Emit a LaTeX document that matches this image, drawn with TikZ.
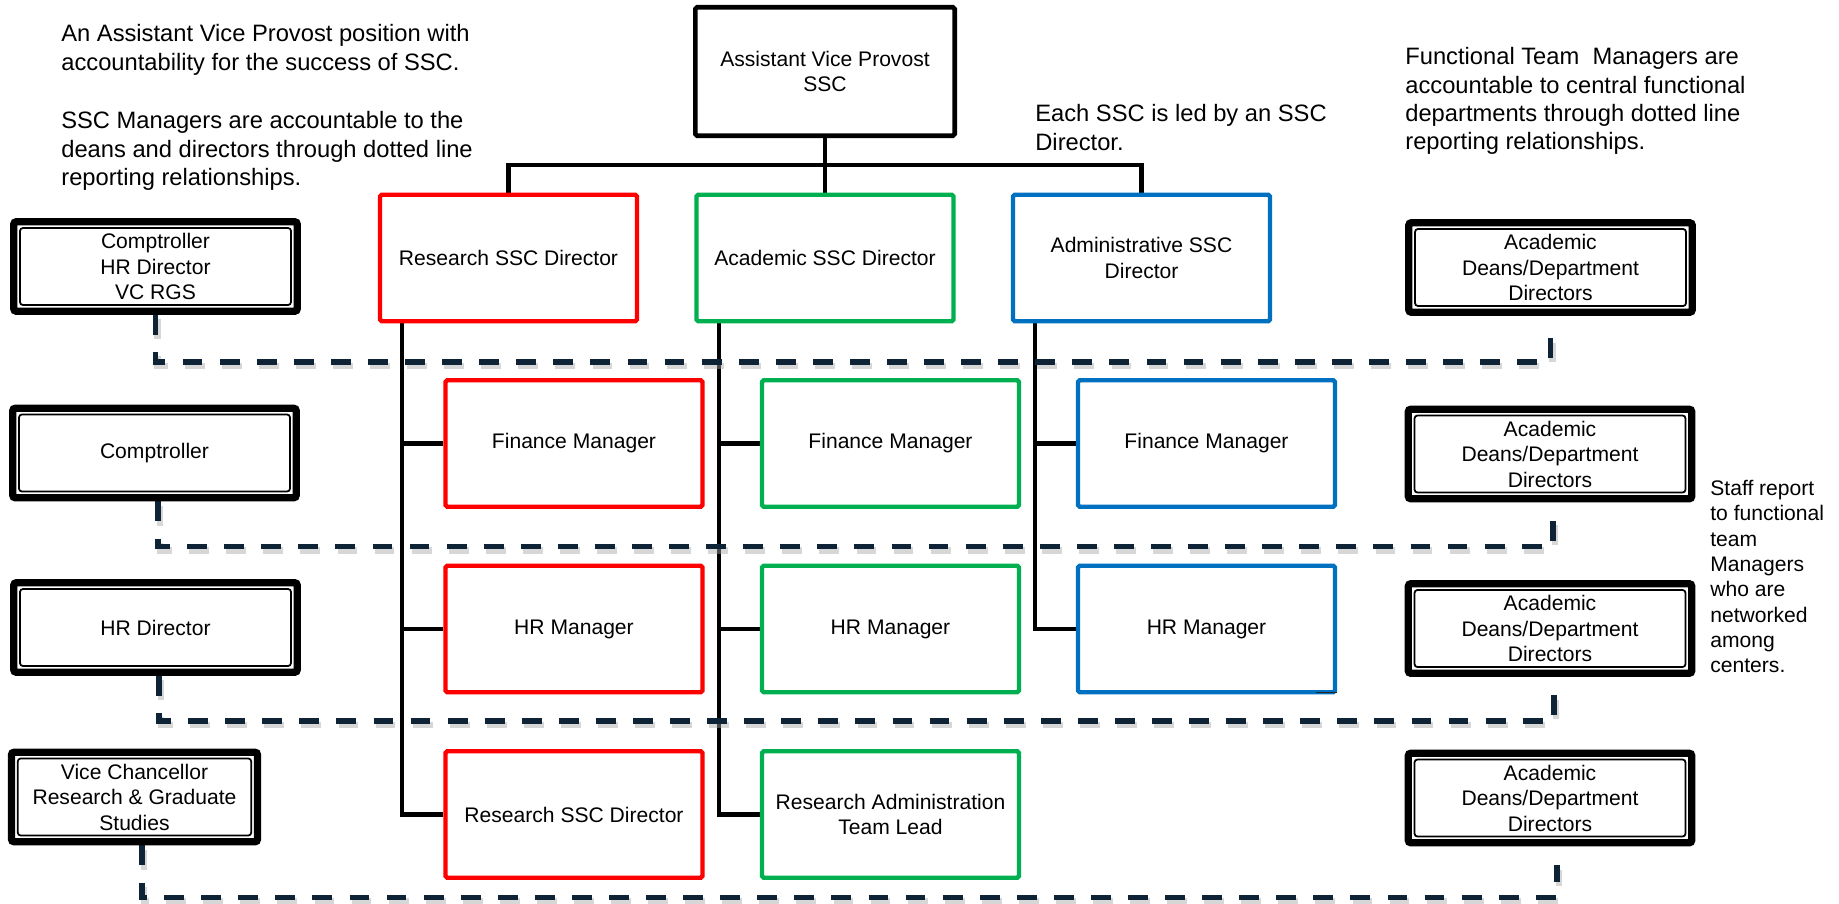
\documentclass[tikz,border=0pt]{standalone}
\usepackage{fontspec}
\setmainfont{Liberation Sans}
\usetikzlibrary{calc,backgrounds}

\definecolor{ssred}{HTML}{FF0000}
\definecolor{ssgreen}{HTML}{00B050}
\definecolor{ssblue}{HTML}{0070C0}
\definecolor{dotnavy}{HTML}{0E2335}

\tikzset{
  ssbox/.style={draw, line width=2.5pt, rounded corners=1pt, fill=white,
    minimum width=5.14cm, minimum height=2.53cm, align=center, inner sep=2pt,
    font=\fontsize{12}{14.6}\selectfont},
  redbox/.style={ssbox, draw=ssred},
  greenbox/.style={ssbox, draw=ssgreen},
  bluebox/.style={ssbox, draw=ssblue},
  dblbox/.style={draw, line width=4.2pt, rounded corners=1.5pt, fill=white,
    minimum width=5.67cm, minimum height=1.79cm, align=center, inner sep=1pt,
    font=\fontsize{12}{14.5}\selectfont,
    path picture={\draw[line width=1pt]
      ([shift={(3.6pt,3.6pt)}]path picture bounding box.south west) rectangle
      ([shift={(-3.6pt,-3.6pt)}]path picture bounding box.north east);}},
  conn/.style={line width=2.3pt},
  dotline/.style={dotnavy, line width=3.3pt, dash pattern=on 11.3pt off 9.8pt,
    preaction={draw=black!35, opacity=0.45, line width=3.6pt, dash pattern=on 11.3pt off 9.8pt,
      transform canvas={shift={(1.2pt,-2.4pt)}}}},
  notetext/.style={anchor=north west, inner sep=0pt, align=left,
    font=\fontsize{13.5}{16.2}\selectfont},
}

\begin{document}
\begin{tikzpicture}[x=0.02cm, y=-0.02cm]
    \useasboundingbox (0,0) rectangle (1839,903);
    % top box
    \node[ssbox, draw=black, line width=2.6pt, minimum width=5.19cm, minimum height=2.57cm] (avp) at (825,71.5) {Assistant Vice Provost\\SSC};
    \coordinate (bus) at (825,165);
    % directors
    \node[redbox] (rdir) at (508.5,258) {Research SSC Director};
    \node[greenbox] (adir) at (825,258) {Academic SSC Director};
    \node[bluebox] (bdir) at (1141.5,258) {Administrative SSC\\Director};
    % managers
    \node[redbox] (rfin) at (574,443.5) {Finance Manager};
    \node[greenbox] (afin) at (890.5,443.5) {Finance Manager};
    \node[bluebox] (bfin) at (1206.5,443.5) {Finance Manager};
    \node[redbox] (rhr) at (574,629) {HR Manager};
    \node[greenbox] (ahr) at (890.5,629) {HR Manager};
    \node[bluebox] (bhr) at (1206.5,629) {HR Manager};
    \node[redbox] (rres) at (574,814.5) {Research SSC Director};
    \node[greenbox] (ares) at (890.5,814.5) {Research Administration\\Team Lead};
    \draw[line width=0.9pt, black!85] ($(bhr.south east)+(-21,-2)$) -- ($(bhr.south east)+(0,-2)$);
    % left boxes
    \node[dblbox] (lcvh) at (155.5,266.5) {Comptroller\\HR Director\\VC RGS};
    \node[dblbox] (lcomp) at (154.5,453) {Comptroller};
    \node[dblbox] (lhr) at (155.5,627.5) {HR Director};
    \node[dblbox, minimum width=4.92cm] (lvc) at (134.5,797) {Vice Chancellor\\Research \& Graduate\\Studies};
    % right boxes
    \node[dblbox] (dean1) at (1550.5,267.5) {Academic\\Deans/Department\\Directors};
    \node[dblbox] (dean2) at (1550,454) {Academic\\Deans/Department\\Directors};
    \node[dblbox] (dean3) at (1550,628.5) {Academic\\Deans/Department\\Directors};
    \node[dblbox] (dean4) at (1550,798) {Academic\\Deans/Department\\Directors};
    \begin{scope}[on background layer]
        % solid lines
        \draw[conn] (avp.south) -- (adir.north);
        \draw[conn] (rdir.north) |- (bus) -| (bdir.north);
        \draw[conn] ($(rdir.south west)+(24.5,0)$) |- (rfin.west);
        \draw[conn] ($(rdir.south west)+(24.5,0)$) |- (rhr.west);
        \draw[conn] ($(rdir.south west)+(24.5,0)$) |- (rres.west);
        \draw[conn] ($(adir.south west)+(24.5,0)$) |- (afin.west);
        \draw[conn] ($(adir.south west)+(24.5,0)$) |- (ahr.west);
        \draw[conn] ($(adir.south west)+(24.5,0)$) |- (ares.west);
        \draw[conn] ($(bdir.south west)+(24.5,0)$) |- (bfin.west);
        \draw[conn] ($(bdir.south west)+(24.5,0)$) |- (bhr.west);
        % dotted lines
        \draw[dotline] (lcvh.south) -- ++(0,47) -| ($(dean1.south)+(0,14)$);
        \draw[dotline] ($(lcomp.south)+(3.5,0)$) -- ++(0,45) -| ($(dean2.south)+(3,11)$);
        \draw[dotline] ($(lhr.south)+(3.5,0)$) -- ++(0,45) -| ($(dean3.south)+(4,12)$);
        \draw[dotline] ($(lvc.south)+(7.5,0)$) -- ++(0,52) -| ($(dean4.south)+(7,19)$);
    \end{scope}
    % notes
    \node[notetext] (avpnote) at (61,24) {An Assistant Vice Provost position with\\accountability for the success of SSC.};
    \node[notetext] (mgrnote) at (61,111) {SSC Managers are accountable to the\\deans and directors through dotted line\\reporting relationships.};
    \node[notetext] (sscnote) at (1035,104) {Each SSC is led by an SSC\\Director.};
    \node[notetext] (funcnote) at (1405,47) {Functional Team\ \ Managers are\\accountable to central functional\\departments through dotted line\\reporting relationships.};
    \node[notetext, font=\fontsize{12}{14.4}\selectfont] (staffnote) at (1710,480) {Staff report\\to functional\\team\\Managers\\who are\\networked\\among\\centers.};
\end{tikzpicture}
\end{document}
